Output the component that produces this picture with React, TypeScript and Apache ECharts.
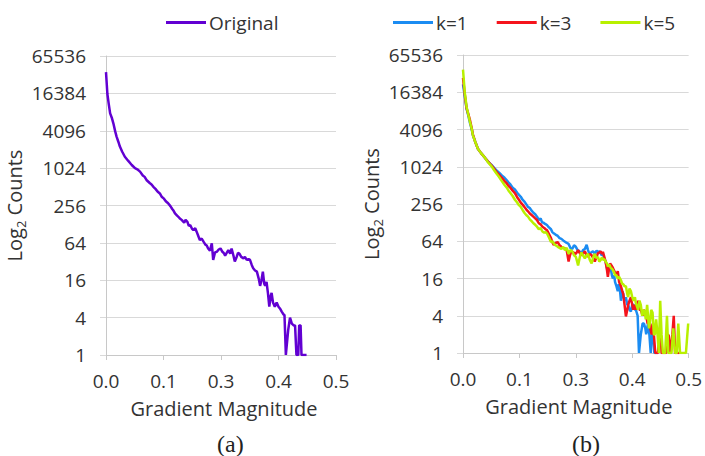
import React, { useEffect, useRef } from 'react';
import * as echarts from 'echarts';

// ---------- data ----------
const originalData: [number, number][] = [
  [0.000, 36000], [0.003, 16000], [0.006, 11000], [0.009, 7800], [0.013, 6500], [0.016, 5400],
  [0.020, 4000], [0.023, 3300], [0.027, 2700], [0.030, 2300], [0.035, 1900], [0.041, 1560],
  [0.048, 1350], [0.056, 1150], [0.063, 1020], [0.068, 980], [0.074, 900], [0.080, 780],
  [0.084, 740], [0.088, 660], [0.095, 590], [0.099, 560], [0.103, 512], [0.108, 470],
  [0.112, 430], [0.117, 400], [0.121, 355], [0.126, 330], [0.130, 300], [0.135, 278],
  [0.140, 250], [0.144, 225], [0.147, 210], [0.150, 191], [0.155, 175], [0.160, 160],
  [0.165, 149], [0.170, 135], [0.173, 150], [0.177, 140], [0.180, 120], [0.183, 124],
  [0.187, 108], [0.190, 103], [0.194, 110], [0.197, 97], [0.200, 85], [0.204, 71],
  [0.208, 75], [0.212, 67], [0.216, 60], [0.219, 58], [0.222, 52], [0.226, 48],
  [0.230, 63], [0.233, 34], [0.237, 45], [0.241, 46], [0.245, 50], [0.249, 52],
  [0.253, 46], [0.256, 44], [0.259, 40], [0.263, 45], [0.266, 49], [0.270, 43],
  [0.273, 52], [0.277, 40], [0.280, 32], [0.284, 38], [0.287, 44], [0.290, 43],
  [0.294, 38], [0.299, 36], [0.302, 38], [0.306, 34], [0.310, 35], [0.313, 34],
  [0.317, 28], [0.320, 25], [0.324, 23], [0.328, 22], [0.332, 17], [0.335, 13],
  [0.338, 16], [0.341, 22], [0.344, 14], [0.346, 13], [0.349, 15], [0.352, 10],
  [0.355, 6], [0.358, 9], [0.360, 10], [0.363, 7], [0.367, 6], [0.371, 7],
  [0.375, 6], [0.379, 5.5], [0.382, 5], [0.386, 4.5], [0.388, 4.4], [0.391, 1],
  [0.396, 2.5], [0.400, 4], [0.404, 3.2], [0.408, 3], [0.411, 3], [0.414, 1],
  [0.418, 1], [0.420, 3], [0.423, 3], [0.425, 1], [0.436, 1],
];

const k1Data: [number, number][] = [
  [0, 22000], [0.004, 14000], [0.008, 8800], [0.012, 6800], [0.015, 5400], [0.019, 4200],
  [0.022, 3300], [0.027, 2600], [0.033, 2000], [0.040, 1700], [0.048, 1450], [0.055, 1250],
  [0.063, 1100], [0.069, 980], [0.075, 880], [0.080, 820], [0.086, 740], [0.092, 680],
  [0.097, 620], [0.101, 570], [0.105, 530], [0.110, 470], [0.115, 440], [0.120, 390],
  [0.124, 360], [0.128, 335], [0.132, 300], [0.136, 280], [0.140, 255], [0.144, 230],
  [0.148, 220], [0.152, 200], [0.156, 185], [0.160, 175], [0.164, 160], [0.168, 141],
  [0.172, 150], [0.175, 130], [0.178, 128], [0.182, 122], [0.186, 117], [0.190, 108],
  [0.195, 100], [0.198, 90], [0.201, 86], [0.205, 82], [0.210, 78], [0.214, 72],
  [0.218, 70], [0.222, 66], [0.226, 63], [0.230, 60], [0.234, 58], [0.238, 50],
  [0.242, 48], [0.246, 55], [0.250, 52], [0.254, 46], [0.258, 44], [0.262, 40],
  [0.266, 46], [0.270, 48], [0.274, 56], [0.277, 46], [0.280, 40], [0.284, 42],
  [0.288, 44], [0.292, 40], [0.296, 45], [0.299, 43], [0.303, 44], [0.307, 38],
  [0.310, 40], [0.313, 34], [0.316, 30], [0.319, 24], [0.321, 21], [0.324, 26],
  [0.327, 24], [0.330, 18], [0.332, 16], [0.335, 18], [0.337, 14], [0.340, 12],
  [0.343, 10], [0.345, 13], [0.347, 12], [0.350, 7], [0.353, 10], [0.355, 9],
  [0.358, 7], [0.361, 8], [0.364, 6], [0.366, 6], [0.369, 5], [0.372, 4.7],
  [0.375, 6], [0.378, 6], [0.381, 5], [0.383, 5], [0.387, 4], [0.390, 1],
  [0.394, 2], [0.398, 3], [0.401, 3], [0.404, 2.5], [0.406, 2], [0.410, 3],
  [0.413, 2], [0.416, 1], [0.419, 2], [0.422, 2], [0.424, 1], [0.432, 1],
];

const k3Data: [number, number][] = [
  [0, 28000], [0.004, 15000], [0.008, 9000], [0.012, 7200], [0.015, 6000], [0.019, 4400],
  [0.022, 3400], [0.027, 2600], [0.033, 2000], [0.040, 1700], [0.048, 1450], [0.055, 1250],
  [0.063, 1080], [0.069, 950], [0.075, 830], [0.080, 760], [0.086, 680], [0.092, 600],
  [0.097, 550], [0.101, 500], [0.105, 470], [0.110, 420], [0.115, 385], [0.120, 330],
  [0.124, 300], [0.128, 270], [0.132, 250], [0.136, 230], [0.140, 210], [0.144, 195],
  [0.148, 180], [0.152, 170], [0.156, 160], [0.160, 150], [0.164, 141], [0.168, 125],
  [0.172, 120], [0.176, 110], [0.180, 105], [0.183, 100], [0.186, 97], [0.190, 85],
  [0.195, 72], [0.198, 62], [0.201, 56], [0.205, 60], [0.210, 62], [0.214, 55],
  [0.218, 52], [0.222, 50], [0.226, 49], [0.230, 45], [0.234, 30], [0.237, 38],
  [0.240, 44], [0.245, 42], [0.250, 40], [0.255, 46], [0.258, 42], [0.262, 38],
  [0.266, 40], [0.270, 44], [0.274, 38], [0.277, 36], [0.281, 40], [0.285, 38],
  [0.289, 34], [0.292, 30], [0.296, 36], [0.299, 41], [0.302, 42], [0.305, 44],
  [0.308, 40], [0.310, 43], [0.313, 36], [0.316, 30], [0.319, 22], [0.321, 17],
  [0.324, 24], [0.326, 28], [0.329, 26], [0.332, 24], [0.334, 22], [0.337, 20],
  [0.340, 18], [0.343, 21], [0.346, 14], [0.348, 13], [0.350, 12], [0.353, 10],
  [0.355, 9], [0.358, 6], [0.361, 3.9], [0.364, 5], [0.366, 6], [0.369, 7],
  [0.372, 8], [0.375, 6], [0.377, 5], [0.380, 6], [0.383, 5], [0.386, 6],
  [0.388, 7], [0.391, 5], [0.394, 5], [0.398, 4], [0.401, 5], [0.404, 4.5],
  [0.406, 4], [0.409, 3], [0.412, 3.4], [0.415, 2.5], [0.418, 2], [0.420, 3],
  [0.422, 2.5], [0.426, 1], [0.432, 1], [0.435, 2], [0.437, 2.8], [0.440, 1],
  [0.450, 1], [0.454, 2], [0.456, 1.9], [0.459, 1], [0.464, 2], [0.467, 4],
  [0.470, 1], [0.480, 1],
];

const k5Data: [number, number][] = [
  [0, 38000], [0.004, 16000], [0.008, 9500], [0.012, 7000], [0.015, 5600], [0.019, 4300],
  [0.022, 3300], [0.027, 2600], [0.033, 2000], [0.040, 1700], [0.048, 1450], [0.055, 1220],
  [0.063, 1050], [0.069, 900], [0.075, 780], [0.080, 700], [0.086, 600], [0.092, 520],
  [0.097, 470], [0.101, 420], [0.105, 385], [0.110, 345], [0.115, 300], [0.120, 270],
  [0.124, 245], [0.128, 230], [0.132, 205], [0.136, 185], [0.140, 170], [0.144, 160],
  [0.148, 145], [0.152, 135], [0.156, 125], [0.160, 118], [0.164, 110], [0.168, 100],
  [0.172, 104], [0.176, 92], [0.180, 88], [0.183, 90], [0.186, 86], [0.190, 75],
  [0.195, 62], [0.198, 64], [0.201, 59], [0.205, 55], [0.210, 52], [0.214, 50],
  [0.218, 48], [0.222, 52], [0.226, 46], [0.230, 50], [0.234, 40], [0.238, 46],
  [0.242, 44], [0.246, 38], [0.250, 36], [0.253, 30], [0.255, 26], [0.259, 36],
  [0.262, 42], [0.266, 38], [0.270, 34], [0.274, 38], [0.277, 40], [0.281, 32],
  [0.285, 28], [0.289, 36], [0.292, 40], [0.296, 34], [0.299, 36], [0.302, 30],
  [0.305, 32], [0.308, 35], [0.310, 32], [0.313, 33], [0.316, 30], [0.319, 28],
  [0.321, 25], [0.324, 27], [0.327, 24], [0.330, 23], [0.332, 22], [0.335, 20],
  [0.337, 18], [0.340, 18], [0.343, 16], [0.346, 17], [0.350, 15], [0.353, 13],
  [0.355, 13], [0.358, 12], [0.361, 12], [0.364, 9], [0.366, 8], [0.369, 11],
  [0.372, 10], [0.375, 8], [0.378, 7], [0.381, 8], [0.383, 6.4], [0.386, 5.5],
  [0.388, 5], [0.391, 7], [0.394, 6], [0.397, 4], [0.400, 5], [0.403, 4.5],
  [0.405, 3.5], [0.408, 6], [0.410, 4], [0.412, 2.5], [0.414, 3], [0.417, 5],
  [0.420, 4.5], [0.423, 2], [0.425, 2], [0.428, 3.5], [0.431, 2], [0.434, 1],
  [0.437, 7], [0.440, 2], [0.443, 1], [0.448, 1], [0.452, 4], [0.455, 1],
  [0.462, 1], [0.466, 2.5], [0.470, 1], [0.474, 1], [0.477, 3], [0.481, 1],
  [0.494, 1], [0.499, 3],
];

const xTickLabels = ['0.0', '0.1', '0.3', '0.4', '0.5'];
const yTickLabels = ['1', '4', '16', '64', '256', '1024', '4096', '16384', '65536'];
const seriesNamesA = ['Original'];
const seriesNamesB = ['k=1', 'k=3', 'k=5'];
const captions = ['(a)', '(b)'];
const xTitle = 'Gradient Magnitude';

const FONT = '"Open Sans", "Noto Sans", sans-serif';
const SERIF = '"Liberation Serif", "Times New Roman", serif';
const TXT = '#333333';
const FS = 20;
const FS_TICK = 19;

function makeXAxis(gridIndex: number) {
  return {
    type: 'value',
    gridIndex,
    min: 0,
    max: 0.5,
    interval: 0.125,
    name: xTitle,
    nameLocation: 'middle',
    nameGap: 43,
    nameTextStyle: { fontSize: FS, color: TXT, fontFamily: FONT, padding: [0, 0, 0, 6] },
    axisLine: { show: true, lineStyle: { color: '#c8c8c8', width: 1 } },
    axisTick: { show: true, length: 5, lineStyle: { color: '#c8c8c8' } },
    axisLabel: {
      fontSize: FS_TICK,
      color: TXT,
      fontFamily: FONT,
      margin: 16,
      formatter: (v: number) => xTickLabels[Math.round(v / 0.125)],
    },
    splitLine: { show: false },
  };
}

function makeYAxis(gridIndex: number) {
  return {
    type: 'log',
    gridIndex,
    logBase: 4,
    min: 1,
    max: 65536,
    splitNumber: 8,
    name: '{n|Log}{s|2}{n| Counts}',
    nameLocation: 'middle',
    nameRotate: 90,
    nameGap: 55,
    nameTextStyle: {
      color: TXT,
      fontFamily: FONT,
      rich: {
        n: { fontSize: FS, lineHeight: 26, color: TXT, fontFamily: FONT },
        s: { fontSize: 13, lineHeight: 13, verticalAlign: 'bottom', color: TXT, fontFamily: FONT },
      },
    },
    axisLine: { show: true, lineStyle: { color: '#c8c8c8', width: 1 } },
    axisTick: { show: true, length: 6, lineStyle: { color: '#d9d9d9' } },
    axisLabel: {
      fontSize: FS_TICK,
      color: TXT,
      fontFamily: FONT,
      margin: 20,
      formatter: (v: number) => yTickLabels[Math.round(Math.log(v) / Math.log(4))],
    },
    splitLine: { show: true, lineStyle: { color: '#d9d9d9', width: 1 } },
    minorTick: { show: false },
  };
}

function lineSeries(name: string, data: [number, number][], color: string, idx: number) {
  return {
    type: 'line',
    name,
    data,
    xAxisIndex: idx,
    yAxisIndex: idx,
    symbol: 'none',
    lineStyle: { color, width: 2.5 },
    itemStyle: { color },
    emphasis: { disabled: true },
  };
}

export default function App() {
  const ref = useRef<HTMLDivElement>(null);

  useEffect(() => {
    document.body.style.margin = '0';
    if (!ref.current) return;
    const chart = echarts.init(ref.current, undefined, { renderer: 'svg' });
    const legendText = { fontSize: FS_TICK, color: TXT, fontFamily: FONT, padding: [0, 0, 0, -2] };
    const legendBase = {
      top: 13,
      padding: 0,
      icon: 'rect',
      itemWidth: 40,
      itemHeight: 3,
      itemGap: 29,
      textStyle: legendText,
      selectedMode: false,
    };
    chart.setOption({
      animation: false,
      backgroundColor: '#ffffff',
      textStyle: { fontFamily: FONT },
      grid: [
        { left: 106, top: 56, width: 230, height: 299 },
        { left: 463, top: 55, width: 229, height: 298 },
      ],
      xAxis: [makeXAxis(0), makeXAxis(1)],
      yAxis: [makeYAxis(0), makeYAxis(1)],
      legend: [
        { ...legendBase, data: seriesNamesA, left: 166 },
        { ...legendBase, data: seriesNamesB, left: 393 },
      ],
      series: [
        lineSeries(seriesNamesA[0], originalData, '#6200d2', 0),
        lineSeries(seriesNamesB[0], k1Data, '#1b8cf2', 1),
        lineSeries(seriesNamesB[1], k3Data, '#f5141c', 1),
        lineSeries(seriesNamesB[2], k5Data, '#b8f000', 1),
      ],
      graphic: [
        {
          type: 'text',
          left: 217,
          top: 432,
          style: { text: captions[0], fontSize: 24, fill: '#222', fontFamily: SERIF },
        },
        {
          type: 'text',
          left: 572,
          top: 432,
          style: { text: captions[1], fontSize: 24, fill: '#222', fontFamily: SERIF },
        },
      ],
    });
    return () => chart.dispose();
  }, []);

  return <div ref={ref} style={{ width: 705, height: 456 }} />;
}
